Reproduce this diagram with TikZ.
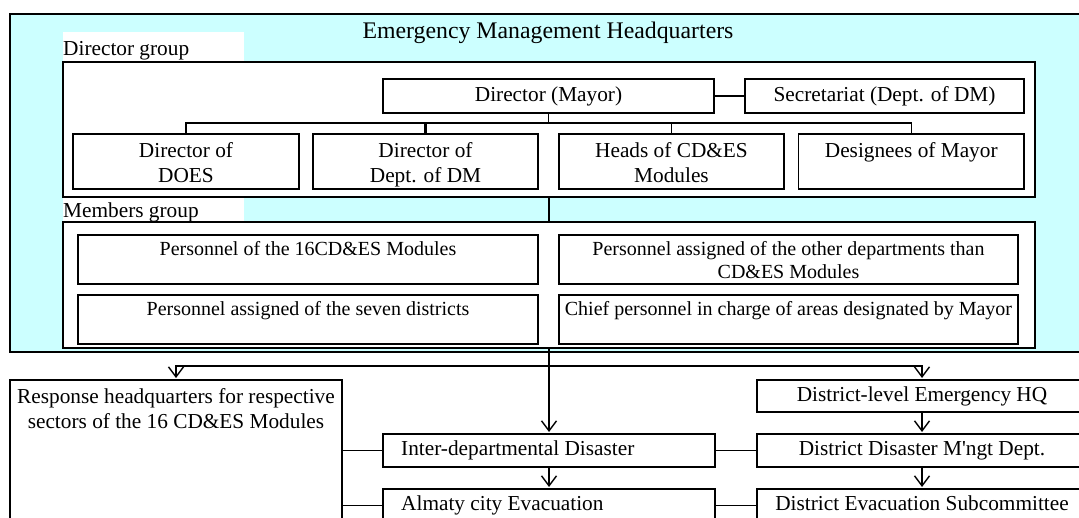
\documentclass[tikz,border=0pt]{standalone}
\usepackage{fontspec}
\setmainfont{Liberation Serif}[Ligatures=TeXOff]
\usetikzlibrary{fit,arrows.meta}
\definecolor{hqcyan}{RGB}{204,255,255}

\newcommand\fBody{\fontsize{21.3}{25}\selectfont}
\newcommand\fMem{\fontsize{20}{23}\selectfont}
\newcommand\fTitle{\fontsize{23.8}{28}\selectfont}

\begin{document}
\begin{tikzpicture}[x=1pt,y=-1pt,
  box/.style={draw, line width=1.6pt, fill=white, inner sep=0pt, outer sep=0pt},
  membox/.style={box, line width=2pt},
  tag/.style={fill=white, inner sep=0pt, outer sep=0pt},
  txt/.style={anchor=base, inner sep=0pt, font=\fBody},
  mtxt/.style={anchor=base, inner sep=0pt, font=\fMem},
  link/.style={line width=1.4pt},
  arr/.style={link, -{Straight Barb[length=10pt,width=15pt,line width=1.4pt]}, shorten >=2pt},
]
\useasboundingbox (0,0) rectangle (1079,517);
\clip (0,0) rectangle (1079,517);
\fill[white] (0,0) rectangle (1079,517);

% headquarters frame
\node[draw, line width=1.6pt, fill=hqcyan, inner sep=0pt, fit={(10,14) (1095,352)}] (hq) {};
\node[anchor=base, inner sep=0pt, font=\fTitle] (title) at (548,38.5) {Emergency Management Headquarters};

% group captions
\node[tag, fit={(63,32) (244,62)}] (dgtag) {};
\node[tag, fit={(63,197) (244,222)}] (memtag) {};
\node[txt, anchor=base west] (dgT) at (63,55) {Director group};
\node[txt, anchor=base west] (memT) at (63,217.5) {Members group};

% director group
\node[box, fit={(63,62) (1035,197)}] (dg) {};
\node[box, fit={(383,79) (714,113)}] (dir) {};
\node[box, fit={(745,79) (1024,113)}] (sec) {};
\node[box, fit={(73,134) (299,189)}] (doe) {};
\node[box, fit={(313,134) (538,189)}] (dm) {};
\node[box, fit={(559,134) (784,189)}] (heads) {};
\node[box, fit={(798.5,134) (1024,189)}] (des) {};

\node[txt] (dirT) at ([yshift=-22pt]dir.north) {Director (Mayor)};
\node[txt] (secT) at ([yshift=-22pt]sec.north) {Secretariat (Dept. of DM)};
\node[txt] (doeT) at ([yshift=-23pt]doe.north) {\parbox[t]{220pt}{\centering Director of\\DOES}};
\node[txt] (dmT) at ([yshift=-23pt]dm.north) {\parbox[t]{220pt}{\centering Director of\\Dept. of DM}};
\node[txt] (headsT) at ([yshift=-23pt]heads.north) {\parbox[t]{220pt}{\centering Heads of CD\&ES\\Modules}};
\node[txt] (desT) at ([yshift=-23pt]des.north) {Designees of Mayor};

% members group
\node[box, fit={(63,222) (1035,348)}] (mem) {};
\node[membox, fit={(78,235) (538,284)}] (m1) {};
\node[membox, fit={(559,235) (1018,284)}] (m2) {};
\node[membox, fit={(78,295) (538,344)}] (m3) {};
\node[membox, fit={(559,295) (1018,344)}] (m4) {};

\node[mtxt] (m1T) at ([yshift=-20pt]m1.north) {Personnel of the 16CD\&ES Modules};
\node[mtxt] (m2T) at ([yshift=-20pt]m2.north) {\parbox[t]{450pt}{\centering Personnel assigned of the other departments than\\CD\&ES Modules}};
\node[mtxt] (m3T) at ([yshift=-20pt]m3.north) {Personnel assigned of the seven districts};
\node[mtxt] (m4T) at ([yshift=-20pt]m4.north) {Chief personnel in charge of areas designated by Mayor};

% response bodies
\node[box, fit={(10,380) (342,540)}] (resp) {};
\node[box, fit={(383,434) (715,467)}] (inter) {};
\node[box, fit={(383,489) (715,522)}] (alm) {};
\node[box, fit={(757,380) (1087,412)}] (dhq) {};
\node[box, fit={(757,434) (1087,467)}] (ddm) {};
\node[box, fit={(757,489) (1087,522)}] (dev) {};

\node[txt] (respT) at ([yshift=-23pt]resp.north) {\parbox[t]{330pt}{\centering Response headquarters for respective\\sectors of the 16 CD\&ES Modules}};
\node[txt, anchor=base west] (interT) at ([xshift=18pt,yshift=-21.5pt]inter.north west) {Inter-departmental Disaster};
\node[txt, anchor=base west] (almT) at ([xshift=18pt,yshift=-21.5pt]alm.north west) {Almaty city Evacuation};
\node[txt] (dhqT) at ([yshift=-21.5pt]dhq.north) {District-level Emergency HQ};
\node[txt] (ddmT) at ([yshift=-21.5pt]ddm.north) {District Disaster M'ngt Dept.};
\node[txt] (devT) at ([yshift=-21.5pt]dev.north) {District Evacuation Subcommittee};

% connectors inside the director group
\draw[link] (dir.east) -- (sec.west);
\coordinate (dbus) at ([yshift=-10pt]dir.south);
\draw[link] (dir.south) -- (dbus);
\draw[link] (dbus) -| (doe.north);
\draw[link] (dbus) -| (heads.north);
\draw[link] (dbus) -| (des.north);
\draw[line width=2.2pt] (dbus -| heads.north) -| (dm.north);

% group to group and downwards
\draw[link] (dg.south) -- (dg.south |- mem.north);
\draw[arr] (mem.south) -- (mem.south |- inter.north);
\coordinate (split) at ([yshift=-18pt]mem.south);
\draw[arr] (split) -| (resp.north);
\draw[arr] (split) -| (dhq.north);

\draw[link] (resp.east |- inter.west) -- (inter.west);
\draw[link] (resp.east |- alm.west) -- (alm.west);
\draw[link] (inter.east) -- (ddm.west);
\draw[link] (alm.east) -- (dev.west);
\draw[arr] (inter.south) -- (alm.north);
\draw[arr] (dhq.south) -- (ddm.north);
\draw[arr] (ddm.south) -- (dev.north);
\end{tikzpicture}
\end{document}
